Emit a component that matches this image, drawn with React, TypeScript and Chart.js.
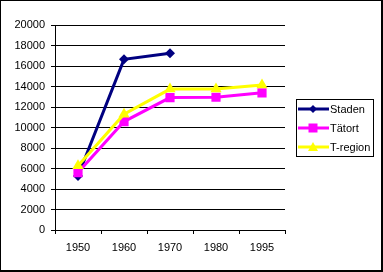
import React, { useEffect, useRef } from "react";
import { Chart, registerables } from "chart.js";

Chart.register(...registerables);

const categories = ["1950", "1960", "1970", "1980", "1995"];
const staden = [5270, 16650, 17250, null, null];
const tatort = [5600, 10580, 12920, 12950, 13380];
const tregion = [6270, 11300, 13750, 13750, 14150];
const seriesNames = ["Staden", "Tätort", "T-region"];
const seriesColors = ["#000080", "#FF00FF", "#FFFF00"];
const seriesMarkers = ["rectRot", "rect", "triangle"];
const yMin = 0;
const yMax = 20000;
const yStep = 2000;

const FONT = "'Liberation Sans', Arial, sans-serif";

function drawMarker(ctx: CanvasRenderingContext2D, kind: string, x: number, y: number, r: number) {
  ctx.beginPath();
  if (kind === "rectRot") {
    ctx.moveTo(x, y - r);
    ctx.lineTo(x + r, y);
    ctx.lineTo(x, y + r);
    ctx.lineTo(x - r, y);
  } else if (kind === "rect") {
    ctx.rect(x - r, y - r, 2 * r, 2 * r);
  } else {
    ctx.moveTo(x, y - r);
    ctx.lineTo(x + r, y + r * 0.8);
    ctx.lineTo(x - r, y + r * 0.8);
  }
  ctx.closePath();
  ctx.fill();
}

const legendPlugin = {
  id: "boxLegend",
  afterDraw(chart: any) {
    const ctx = chart.ctx;
    const area = chart.chartArea;
    const x0 = area.right + 11;
    const y0 = area.top + 74;
    const w = 77;
    const h = 57;
    ctx.save();
    ctx.fillStyle = "#fff";
    ctx.fillRect(x0, y0, w, h);
    ctx.strokeStyle = "#000";
    ctx.lineWidth = 1;
    ctx.strokeRect(x0 + 0.5, y0 + 0.5, w, h);
    ctx.font = "11px " + FONT;
    ctx.textBaseline = "middle";
    ctx.textAlign = "left";
    seriesNames.forEach((name, i) => {
      const cy = y0 + 10 + i * 19;
      ctx.strokeStyle = seriesColors[i];
      ctx.lineWidth = 3;
      ctx.beginPath();
      ctx.moveTo(x0 + 2, cy);
      ctx.lineTo(x0 + 33, cy);
      ctx.stroke();
      ctx.fillStyle = seriesColors[i];
      drawMarker(ctx, seriesMarkers[i], x0 + 17, cy, i === 0 ? 4 : i === 1 ? 4.5 : 5);
      ctx.fillStyle = "#000";
      ctx.fillText(name, x0 + 34, cy + 0.5);
    });
    ctx.restore();
  },
};

export default function App() {
  const ref = useRef<HTMLCanvasElement>(null);
  useEffect(() => {
    document.body.style.margin = "0";
    const mk = (i: number, data: (number | null)[], radius: number, order: number) => ({
      label: seriesNames[i],
      data,
      borderColor: seriesColors[i],
      backgroundColor: seriesColors[i],
      pointBackgroundColor: seriesColors[i],
      pointBorderColor: seriesColors[i],
      pointBorderWidth: 0,
      pointStyle: seriesMarkers[i],
      pointRadius: radius,
      borderWidth: 3,
      tension: 0,
      spanGaps: false,
      order,
    });
    const chart = new Chart(ref.current!, {
      type: "line",
      data: {
        labels: categories,
        datasets: [
          mk(0, staden, 5, 2),
          mk(1, tatort, 6.5, 1),
          mk(2, tregion, 6.5, 0),
        ],
      },
      options: {
        animation: false,
        responsive: false,
        devicePixelRatio: 1,
        layout: { padding: { left: 0, top: 24, right: 96, bottom: 0 } },
        plugins: { legend: { display: false }, tooltip: { enabled: false } },
        scales: {
          x: {
            offset: true,
            grid: {
              offset: true,
              drawOnChartArea: false,
              drawTicks: true,
              tickLength: 4,
              color: "#000",
            },
            border: { color: "#000", width: 1 },
            ticks: { color: "#000", font: { family: FONT, size: 11 }, padding: 7, maxRotation: 0 },
            afterFit: (s: any) => { s.height = 40; },
          },
          y: {
            min: yMin,
            max: yMax,
            grid: { color: "#000", tickLength: 4, drawTicks: true },
            border: { color: "#000", width: 1 },
            ticks: {
              stepSize: yStep,
              color: "#000",
              font: { family: FONT, size: 11 },
              padding: 6,
              callback: (v: any) => String(v),
            },
            afterFit: (s: any) => { s.width = 54; },
          },
        },
      },
      plugins: [legendPlugin],
    });
    return () => chart.destroy();
  }, []);
  return (
    <div
      style={{
        position: "fixed",
        left: 0,
        top: 0,
        width: 383,
        height: 272,
        background: "#fff",
        boxSizing: "border-box",
        borderLeft: "1px solid #000",
        borderTop: "1px solid #000",
        borderRight: "2px solid #000",
        borderBottom: "2px solid #000",
      }}
    >
      <canvas ref={ref} width={380} height={269} style={{ display: "block" }} />
    </div>
  );
}
